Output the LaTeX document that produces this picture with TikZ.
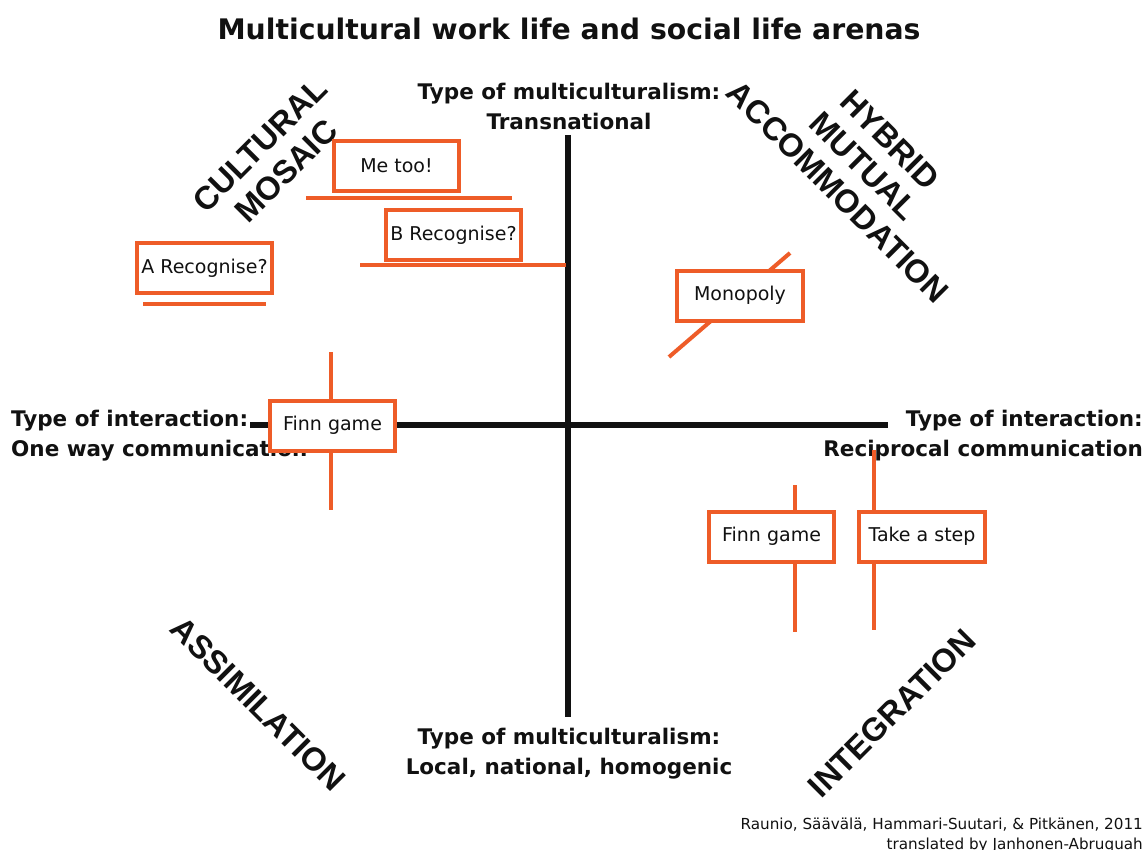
\documentclass[tikz,border=0pt]{standalone}
\usepackage{fontspec}
\setmainfont{DejaVu Sans}
\newfontfamily\diagfont{Liberation Sans}
\definecolor{orng}{RGB}{238,92,40}
\definecolor{ink}{RGB}{17,17,17}
\begin{document}
\begin{tikzpicture}[x=1pt,y=-1pt,
  axis/.style={line width=6pt,ink},
  oline/.style={line width=4pt,orng},
  obox/.style={draw=orng,line width=4pt,fill=white,minimum height=50pt,inner xsep=0pt,font=\fontsize{19}{22}\selectfont,text=ink},
  lbl/.style={font=\bfseries\fontsize{21.5}{30}\selectfont,text=ink,inner sep=0pt},
  diag/.style={font=\diagfont\bfseries\fontsize{32.5}{37}\selectfont,text=ink,inner sep=0pt,align=center},
  ttl/.style={font=\bfseries\fontsize{28.3}{32}\selectfont,text=ink,inner sep=0pt},
  cred/.style={font=\fontsize{15.2}{20}\selectfont,text=ink,inner sep=0pt,align=right}]
\useasboundingbox[fill=white] (0,0) rectangle (1147,850);
% axes
\coordinate (vt) at (568,135);
\coordinate (vb) at (568,717);
\coordinate (hl) at (250,425);
\coordinate (hr) at (888,425);
\draw[axis] (vt) -- (vb);
\draw[axis] (hl) -- (hr);
% title
\node[ttl] (title) at (569,29) {Multicultural work life and social life arenas};
% axis labels
\node[lbl,align=center] (top) at (569,106) {Type of multiculturalism:\\Transnational};
\node[lbl,align=center] (bot) at (569,754) {Type of multiculturalism:\\Local, national, homogenic};
\node[lbl,align=left,anchor=west] (left) at (11,436) {Type of interaction:\\One way communication};
\node[lbl,align=right,anchor=east] (right) at (1143,436) {Type of interaction:\\Reciprocal communication};
% diagonal labels
\node[diag,rotate=45] (mosaic) at (273,158) {CULTURAL\\MOSAIC};
\node[diag,rotate=-45] (hybrid) at (864,166) {HYBRID\\MUTUAL\\ACCOMMODATION};
\node[diag,rotate=-45] (assim) at (258,704) {ASSIMILATION};
\node[diag,rotate=45] (integ) at (892,713) {INTEGRATION};
% credit
\node[cred,anchor=north east] (credit) at (1143,818) {Raunio, Säävälä, Hammari-Suutari, \& Pitkänen, 2011\\translated by Janhonen-Abruquah};
% orange lines
\coordinate (m1) at (306,198); \coordinate (m2) at (512,198);
\coordinate (b1) at (360,265); \coordinate (b2) at (566,265);
\coordinate (a1) at (143,304); \coordinate (a2) at (266,304);
\coordinate (p1) at (669,357); \coordinate (p2) at (790,253);
\coordinate (f1) at (331,352); \coordinate (f2) at (331,510);
\coordinate (g1) at (795,485); \coordinate (g2) at (795,632);
\coordinate (s1) at (874,450); \coordinate (s2) at (874,630);
\draw[oline] (m1) -- (m2);
\draw[oline] (b1) -- (b2);
\draw[oline] (a1) -- (a2);
\draw[oline] (p1) -- (p2);
\draw[oline] (f1) -- (f2);
\draw[oline] (g1) -- (g2);
\draw[oline] (s1) -- (s2);
% boxes
\node[obox,minimum width=125pt] (metoo) at (396.5,166) {Me too!};
\node[obox,minimum width=135pt] (brec) at (453.5,235) {B Recognise?};
\node[obox,minimum width=135pt] (arec) at (204.5,268) {A Recognise?};
\node[obox,minimum width=126pt] (mono) at (740,295.5) {Monopoly};
\node[obox,minimum width=125pt] (finnl) at (332.5,425.5) {Finn game};
\node[obox,minimum width=125pt] (finnr) at (771.5,536.5) {Finn game};
\node[obox,minimum width=126pt] (step) at (922,536.5) {Take a step};
% line over the right label
\draw[oline] (s1) -- (s1 |- step.north);
\end{tikzpicture}
\end{document}
